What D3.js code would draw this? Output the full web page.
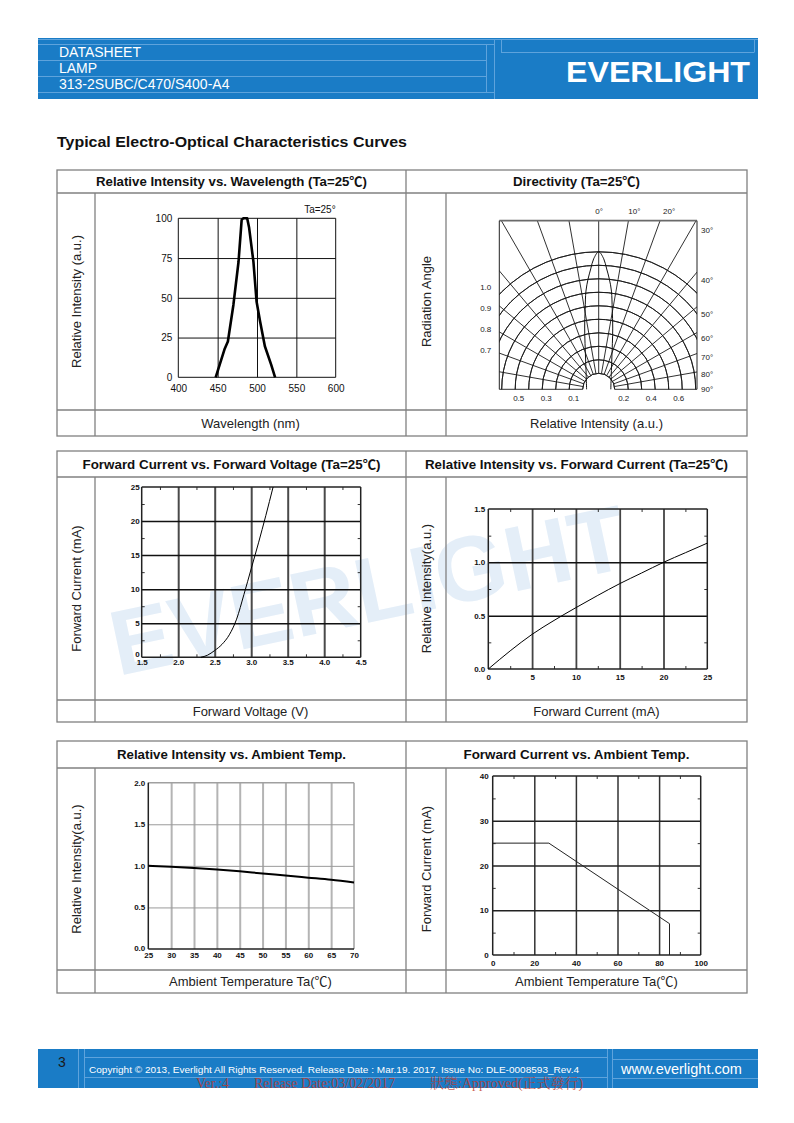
<!DOCTYPE html>
<html><head><meta charset="utf-8">
<script src="https://cdn.jsdelivr.net/npm/d3@7"></script>
<style>body{margin:0;background:#fff}svg{display:block}</style>
</head><body>
<svg id="page" width="794" height="1123"></svg>
<script>
// ================= DATA =================
const headerLines = ["DATASHEET", "LAMP", "313-2SUBC/C470/S400-A4"];
const logoText = "EVERLIGHT";
const pageTitle = "Typical Electro-Optical Characteristics Curves";
const chartTitles = [
  ["Relative Intensity vs. Wavelength (Ta=25℃)", "Directivity (Ta=25℃)"],
  ["Forward Current vs. Forward Voltage (Ta=25℃)", "Relative Intensity vs. Forward Current (Ta=25℃)"],
  ["Relative Intensity vs. Ambient Temp.", "Forward Current vs. Ambient Temp."]
];
const sideLabels = [
  ["Relative Intensity (a.u.)", "Radiation Angle"],
  ["Forward Current (mA)", "Relative Intensity(a.u.)"],
  ["Relative Intensity(a.u.)", "Forward Current (mA)"]
];
const bottomLabels = [
  ["Wavelength (nm)", "Relative Intensity (a.u.)"],
  ["Forward Voltage (V)", "Forward Current (mA)"],
  ["Ambient Temperature Ta(℃)", "Ambient Temperature Ta(℃)"]
];

// Relative intensity vs wavelength
const wlTicks = [400, 450, 500, 550, 600];
const wlRelTicks = [0, 25, 50, 75, 100];
const spectrumWl  = [447.5, 459, 463, 470, 476.5, 480.5, 482.5, 487.5, 490, 495.5, 499.5, 504, 510, 518, 523];
const spectrumRel = [0, 18, 22.5, 45.5, 72.5, 99, 100, 100, 94, 72.5, 47.5, 35, 19.5, 8, 0];
const spectrumNote = "Ta=25°";

// Directivity
const dirGridAngles = [-90, -80, -70, -60, -50, -40, -30, -20, -10, 0, 10, 20, 30, 40, 50, 60, 70, 80, 90];
const dirRings = [1, 2, 3, 4, 5, 6, 7, 8, 9, 10];
const dirAngles = [-90, -40, -23.4, -12.9, -9.6, -7.4, -5.5, -3.8, -2.2, 0, 2.2, 3.8, 5.5, 7.4, 9.6, 12.9, 23.4, 40, 90];
const dirRel    = [0.088, 0.142, 0.24, 0.457, 0.59, 0.72, 0.806, 0.877, 0.95, 1.0, 0.95, 0.877, 0.806, 0.72, 0.59, 0.457, 0.24, 0.142, 0.088];
const dirTopAngles = [0, 10, 20];
const dirRightAngles = [30, 40, 50, 60, 70, 80, 90];
const dirLeftValues = [1.0, 0.9, 0.8, 0.7];
const dirBottomValues = [0.5, 0.3, 0.1, 0.2, 0.4, 0.6];

// Forward current vs forward voltage
const vfTicks = [1.5, 2.0, 2.5, 3.0, 3.5, 4.0, 4.5];
const vfMinor = [1.75, 2.25, 2.75, 3.25, 3.75, 4.25];
const ifTicksA = [0, 5, 10, 15, 20, 25];
const ifMinorA = [2.5, 7.5, 12.5, 17.5, 22.5];
const vfVolt = [2.31, 2.40, 2.50, 2.60, 2.70, 2.80, 2.90, 3.00, 3.10, 3.20, 3.30];
const vfCurr = [0, 0.3, 1.0, 1.9, 3.3, 5.6, 9.2, 13.0, 16.8, 20.8, 25];

// Relative intensity vs forward current
const ifTicks = [0, 5, 10, 15, 20, 25];
const ifMinor = [2.5, 7.5, 12.5, 17.5, 22.5];
const ivTicks = [0, 0.5, 1.0, 1.5];
const ivMinor = [0.25, 0.75, 1.25];
const ifCurr = [0, 2.5, 5, 7.5, 10, 12.5, 15, 17.5, 20, 22.5, 25];
const ifRel  = [0, 0.17, 0.325, 0.455, 0.575, 0.69, 0.80, 0.90, 1.0, 1.09, 1.18];

// Relative intensity vs ambient temperature
const taTicks = [25, 30, 35, 40, 45, 50, 55, 60, 65, 70];
const taRelTicks = [0, 0.5, 1.0, 1.5, 2.0];
const taTemp = [25, 30, 35, 40, 45, 50, 55, 60, 65, 70];
const taRel  = [1.0, 0.99, 0.975, 0.957, 0.935, 0.908, 0.884, 0.858, 0.832, 0.80];

// Forward current vs ambient temperature
const derTicks = [0, 20, 40, 60, 80, 100];
const derMinor = [10, 30, 50, 70, 90];
const derCurTicks = [0, 10, 20, 30, 40];
const derCurMinor = [5, 15, 25, 35];
const derTemp = [0, 27, 85, 85];
const derCurr = [25, 25, 7, 0];

// Footer
const pageNumber = "3";
const copyrightText = "Copyright © 2013, Everlight All Rights Reserved. Release Date : Mar.19. 2017. Issue No: DLE-0008593_Rev.4";
const siteText = "www.everlight.com";
const stampTexts = ["Ver.:4", "Release Date:03/02/2017", "狀態:Approved(正式發行)"];

// ================= DRAWING =================
const svg = d3.select("#page");
const BLUE = "#1a7cc6", LIGHT = "#5ea3dc", BORDER = "#808080";
const SANS = "'Liberation Sans', Arial, 'Noto Sans CJK TC', sans-serif";
const NARROW = "'Liberation Sans Narrow', 'Liberation Sans', Arial, sans-serif";
const SERIF = "'Liberation Serif', 'Times New Roman', 'Noto Serif CJK TC', 'Noto Sans CJK TC', serif";

function line(g, x1, y1, x2, y2, color, w) {
  return g.append("line").attr("x1", x1).attr("y1", y1).attr("x2", x2).attr("y2", y2)
    .attr("stroke", color).attr("stroke-width", w);
}

// ---- Header ----
(function header() {
  const g = svg.append("g");
  g.append("rect").attr("x", 38).attr("y", 38).attr("width", 720).attr("height", 61).attr("fill", BLUE);
  line(g, 38, 39.5, 758, 39.5, LIGHT, 1);
  line(g, 38, 44.5, 494, 44.5, LIGHT, 1);
  line(g, 38, 60.5, 486, 60.5, LIGHT, 1);
  line(g, 38, 76.5, 486, 76.5, LIGHT, 1);
  line(g, 38, 92.5, 494, 92.5, LIGHT, 1);
  line(g, 501, 52.5, 754, 52.5, LIGHT, 1);
  line(g, 486.5, 44.5, 486.5, 92.5, LIGHT, 1);
  line(g, 494.5, 39.5, 494.5, 99, LIGHT, 1);
  line(g, 501.5, 39.5, 501.5, 52.5, LIGHT, 1);
  line(g, 754.5, 39.5, 754.5, 52.5, LIGHT, 1);
  g.selectAll("text.hl").data(headerLines).join("text")
    .attr("x", 59).attr("y", (d, i) => 57 + i * 16)
    .attr("font-family", SANS).attr("font-size", 14).attr("fill", "#fff").text(d => d);
  g.append("text").attr("x", 566).attr("y", 82).attr("font-family", SANS).attr("font-weight", "bold")
    .attr("font-size", 30).attr("fill", "#fff").attr("textLength", 184).attr("lengthAdjust", "spacingAndGlyphs")
    .text(logoText);
})();

// ---- Page title ----
svg.append("text").attr("x", 57).attr("y", 147).attr("font-family", SANS).attr("font-weight", "bold")
  .attr("font-size", 15).attr("fill", "#111").attr("textLength", 350).attr("lengthAdjust", "spacingAndGlyphs")
  .text(pageTitle);

// ---- Watermark (behind table 2) ----
svg.append("text").attr("transform", "translate(118,676) rotate(-12)")
  .attr("font-family", SANS).attr("font-weight", "bold").attr("font-size", 92)
  .attr("fill", "#e4eef8").attr("textLength", 525).attr("lengthAdjust", "spacingAndGlyphs")
  .text(logoText);

// ---- Tables ----
const TX = [57, 95, 406, 446, 747];
const tableRows = [[170, 193, 410, 436], [451, 477, 700, 722], [741, 768, 970, 993]];
const titleWidths = [[271, 127], [298, 303], [229, 226]];
tableRows.forEach((r, i) => {
  const [t, r1, r2, b] = r;
  const g = svg.append("g");
  g.append("rect").attr("x", TX[0]).attr("y", t).attr("width", TX[4] - TX[0]).attr("height", b - t)
    .attr("fill", "none").attr("stroke", BORDER).attr("stroke-width", 1.3);
  line(g, TX[0], r1, TX[4], r1, BORDER, 1.3);
  line(g, TX[0], r2, TX[4], r2, BORDER, 1.3);
  line(g, TX[2], t, TX[2], b, BORDER, 1.3);
  line(g, TX[1], r1, TX[1], b, BORDER, 1.3);
  line(g, TX[3], r1, TX[3], b, BORDER, 1.3);
  [0, 1].forEach(j => {
    const cx = j === 0 ? (TX[0] + TX[2]) / 2 : (TX[2] + TX[4]) / 2;
    g.append("text").attr("x", cx).attr("y", (t + r1) / 2 + 4.5).attr("text-anchor", "middle")
      .attr("font-family", SANS).attr("font-weight", "bold").attr("font-size", 13).attr("fill", "#111")
      .attr("textLength", titleWidths[i][j]).attr("lengthAdjust", "spacingAndGlyphs")
      .text(chartTitles[i][j]);
    const sx = j === 0 ? (TX[0] + TX[1]) / 2 : (TX[2] + TX[3]) / 2;
    g.append("text").attr("transform", `translate(${sx + 4.5},${(r1 + r2) / 2}) rotate(-90)`)
      .attr("text-anchor", "middle").attr("font-family", SANS).attr("font-size", 13).attr("fill", "#222")
      .text(sideLabels[i][j]);
    const bx = j === 0 ? (TX[1] + TX[2]) / 2 : (TX[3] + TX[4]) / 2;
    g.append("text").attr("x", bx).attr("y", (r2 + b) / 2 + 4.5).attr("text-anchor", "middle")
      .attr("font-family", SANS).attr("font-size", 13).attr("fill", "#222")
      .text(bottomLabels[i][j]);
  });
});

// ---- Cartesian chart helper ----
function cartesian(c) {
  const g = svg.append("g");
  const x = d3.scaleLinear().domain(c.xDomain).range([c.left, c.right]);
  const y = d3.scaleLinear().domain(c.yDomain).range([c.bottom, c.top]);
  const w = c.right - c.left, h = c.bottom - c.top;
  const strip = s => s.select(".domain").remove();
  g.append("g").attr("transform", `translate(0,${c.bottom})`)
    .call(d3.axisBottom(x).tickValues(c.xTicks.slice(1, -1)).tickSize(-h).tickFormat(""))
    .call(strip).selectAll("line").attr("stroke", c.vg[0]).attr("stroke-width", c.vg[1]);
  g.append("g").attr("transform", `translate(${c.left},0)`)
    .call(d3.axisLeft(y).tickValues(c.yTicks.slice(1, -1)).tickSize(-w).tickFormat(""))
    .call(strip).selectAll("line").attr("stroke", c.hg[0]).attr("stroke-width", c.hg[1]);
  if (c.minorX) {
    g.append("g").attr("transform", `translate(0,${c.top})`)
      .call(d3.axisBottom(x).tickValues(c.minorX).tickSize(3).tickFormat("")).call(strip)
      .selectAll("line").attr("stroke", "#333");
    g.append("g").attr("transform", `translate(0,${c.bottom})`)
      .call(d3.axisTop(x).tickValues(c.minorX).tickSize(3).tickFormat("")).call(strip)
      .selectAll("line").attr("stroke", "#333");
  }
  if (c.minorY) {
    g.append("g").attr("transform", `translate(${c.left},0)`)
      .call(d3.axisRight(y).tickValues(c.minorY).tickSize(3).tickFormat("")).call(strip)
      .selectAll("line").attr("stroke", "#333");
    g.append("g").attr("transform", `translate(${c.right},0)`)
      .call(d3.axisLeft(y).tickValues(c.minorY).tickSize(3).tickFormat("")).call(strip)
      .selectAll("line").attr("stroke", "#333");
  }
  const f = c.frame; // [top,right,bottom,left] colours, width
  line(g, c.left, c.top, c.right, c.top, f[0], f[4]);
  line(g, c.right, c.top, c.right, c.bottom, f[1], f[4]);
  line(g, c.left, c.bottom, c.right, c.bottom, f[2], f[4]);
  line(g, c.left, c.top, c.left, c.bottom, f[3], f[4]);
  g.append("path").datum(d3.zip(c.xs, c.ys))
    .attr("fill", "none").attr("stroke", c.lineColor || "#000").attr("stroke-width", c.lineWidth)
    .attr("stroke-linejoin", "round")
    .attr("d", d3.line().x(d => x(d[0])).y(d => y(d[1])).curve(c.curve || d3.curveLinear));
  const xa = g.append("g").attr("transform", `translate(0,${c.bottom})`)
    .call(d3.axisBottom(x).tickValues(c.xTicks).tickSize(0).tickPadding(c.xPad).tickFormat(c.xFmt))
    .call(strip);
  const ya = g.append("g").attr("transform", `translate(${c.left},0)`)
    .call(d3.axisLeft(y).tickValues(c.yTicks).tickSize(0).tickPadding(c.yPad).tickFormat(c.yFmt))
    .call(strip);
  [xa, ya].forEach(a => {
    a.attr("font-family", c.font).attr("font-size", c.fontSize).attr("font-weight", c.fontWeight);
    a.selectAll("text").attr("fill", "#111");
  });
  if (c.zeroLift) {
    ya.selectAll(".tick").filter(d => d === c.yDomain[0]).select("text").attr("y", -c.zeroLift);
  }
  return { g, x, y };
}

// Chart 1: spectrum
const c1 = cartesian({
  left: 178.3, right: 335.7, top: 218.3, bottom: 377.3,
  xDomain: [400, 600], yDomain: [0, 100], xTicks: wlTicks, yTicks: wlRelTicks,
  xFmt: d3.format("d"), yFmt: d3.format("d"),
  vg: ["#111", 1], hg: ["#111", 1], frame: ["#111", "#111", "#111", "#111", 1],
  xs: spectrumWl, ys: spectrumRel, lineWidth: 2.6,
  font: SANS, fontSize: 10, fontWeight: "normal", xPad: 8, yPad: 6
});
c1.g.append("text").attr("x", c1.x(600)).attr("y", c1.y(100) - 5).attr("text-anchor", "end")
  .attr("font-family", SANS).attr("font-size", 10).attr("fill", "#111").text(spectrumNote);

// Chart 2: directivity (polar)
(function polar() {
  const fx0 = 499.3, fx1 = 697, fy0 = 220.7, fy1 = 389.3, cx = 598.7, cy = fy1;
  const g = svg.append("g");
  g.append("defs").append("clipPath").attr("id", "dirClip").append("rect")
    .attr("x", fx0).attr("y", fy0).attr("width", fx1 - fx0).attr("height", fy1 - fy0 + 1);
  const c = g.append("g").attr("clip-path", "url(#dirClip)")
    .append("g").attr("transform", `translate(${cx},${cy})`);
  const rad = a => a * Math.PI / 180;
  const ringR = d3.scaleLinear().domain([1, 10]).range([16, 137.5]);
  const rScale = d3.scaleLinear().domain([0, 1]).range([0, 137.5]);
  const arc = d3.arc();
  c.selectAll("path.ring").data(dirRings).join("path").attr("class", "ring")
    .attr("d", d => arc({ innerRadius: ringR(d), outerRadius: ringR(d), startAngle: -Math.PI / 2, endAngle: Math.PI / 2 }))
    .attr("fill", "none").attr("stroke", "#1a1a1a").attr("stroke-width", 0.9);
  c.selectAll("line.spoke").data(dirGridAngles).join("line").attr("class", "spoke")
    .attr("x1", a => ringR(1) * Math.sin(rad(a))).attr("y1", a => -ringR(1) * Math.cos(rad(a)))
    .attr("x2", a => 400 * Math.sin(rad(a))).attr("y2", a => -400 * Math.cos(rad(a)))
    .attr("stroke", "#1a1a1a").attr("stroke-width", 0.9);
  c.append("path").datum(d3.zip(dirAngles, dirRel))
    .attr("d", d3.lineRadial().angle(d => rad(d[0])).radius(d => rScale(d[1])).curve(d3.curveCatmullRom))
    .attr("fill", "none").attr("stroke", "#111").attr("stroke-width", 1);
  line(g, fx0, fy0, fx1, fy0, "#6a6a6a", 1.8);
  line(g, fx0, fy0, fx0, fy1, "#222", 1);
  line(g, fx1, fy0, fx1, fy1, "#222", 1);
  const lab = g.append("g").attr("font-family", SANS).attr("font-size", 8).attr("fill", "#222");
  const dx = fx1 - cx, dy = cy - fy0;
  lab.selectAll("text.top").data(dirTopAngles).join("text")
    .attr("x", a => cx + dy * Math.tan(rad(a)) + (a === 0 ? 0.5 : 3 + a * 0.3))
    .attr("y", fy0 - 7).attr("text-anchor", "middle").text(a => a + "°");
  lab.selectAll("text.right").data(dirRightAngles).join("text")
    .attr("x", fx1 + 4)
    .attr("y", a => {
      const hitY = Math.max(fy0, cy - dx / Math.tan(rad(a)));
      return hitY + 8 * Math.cos(rad(a)) / Math.cos(rad(40)) + 3;
    }).text(a => a + "°");
  const leftY = d3.scaleLinear().domain([1.0, 0.7]).range([287, 350]);
  lab.selectAll("text.left").data(dirLeftValues).join("text")
    .attr("x", fx0 - 8).attr("y", v => leftY(v) + 3).attr("text-anchor", "end")
    .text(d3.format(".1f"));
  const pairX = d3.scaleLinear().domain([1, 3]).range([25, 80]);
  lab.selectAll("text.bot").data(dirBottomValues).join("text")
    .attr("x", v => {
      const k = Math.round(v * 10);
      const side = k % 2 === 1 ? -1 : 1;
      return cx + side * pairX(Math.ceil(k / 2));
    })
    .attr("y", cy + 12).attr("text-anchor", "middle").text(d3.format(".1f"));
})();

// Chart 3: IF vs VF
cartesian({
  left: 141.7, right: 360.7, top: 487, bottom: 657.3,
  xDomain: [1.5, 4.5], yDomain: [0, 25], xTicks: vfTicks, yTicks: ifTicksA,
  minorX: vfMinor, minorY: ifMinorA,
  xFmt: d3.format(".1f"), yFmt: d3.format("d"),
  vg: ["#4a4a4a", 2], hg: ["#111", 1.5], frame: ["#222", "#222", "#222", "#222", 1.5],
  xs: vfVolt, ys: vfCurr, lineWidth: 1, curve: d3.curveMonotoneX,
  font: NARROW, fontSize: 8, fontWeight: "bold", xPad: 2, yPad: 2, zeroLift: 3.5
});

// Chart 4: IV vs IF
cartesian({
  left: 488.3, right: 707.3, top: 509, bottom: 669,
  xDomain: [0, 25], yDomain: [0, 1.5], xTicks: ifTicks, yTicks: ivTicks,
  minorX: ifMinor, minorY: ivMinor,
  xFmt: d3.format("d"), yFmt: d3.format(".1f"),
  vg: ["#444", 1.8], hg: ["#111", 1.5], frame: ["#222", "#222", "#222", "#222", 1.5],
  xs: ifCurr, ys: ifRel, lineWidth: 1, curve: d3.curveMonotoneX,
  font: NARROW, fontSize: 8, fontWeight: "bold", xPad: 5, yPad: 3
});

// Chart 5: IV vs Ta
cartesian({
  left: 148.3, right: 354, top: 782.7, bottom: 949,
  xDomain: [25, 70], yDomain: [0, 2.0], xTicks: taTicks, yTicks: taRelTicks,
  xFmt: d3.format("d"), yFmt: d3.format(".1f"),
  vg: ["#b4b4b4", 2], hg: ["#9a9a9a", 1], frame: ["#a0a0a0", "#a0a0a0", "#222", "#222", 1.5],
  xs: taTemp, ys: taRel, lineWidth: 2, curve: d3.curveMonotoneX,
  font: NARROW, fontSize: 8, fontWeight: "bold", xPad: 3.3, yPad: 3, zeroLift: 1.5
});

// Chart 6: IF vs Ta (derating)
cartesian({
  left: 492.7, right: 700.7, top: 776, bottom: 955,
  xDomain: [0, 100], yDomain: [0, 40], xTicks: derTicks, yTicks: derCurTicks,
  minorX: derMinor, minorY: derCurMinor,
  xFmt: d3.format("d"), yFmt: d3.format("d"),
  vg: ["#333", 1.5], hg: ["#222", 1.5], frame: ["#222", "#222", "#222", "#222", 1.5],
  xs: derTemp, ys: derCurr, lineWidth: 1, lineColor: "#222",
  font: NARROW, fontSize: 8, fontWeight: "bold", xPad: 5, yPad: 4
});

// ---- Footer ----
(function footer() {
  const g = svg.append("g");
  g.append("rect").attr("x", 38).attr("y", 1049).attr("width", 720).attr("height", 39).attr("fill", BLUE);
  line(g, 78.5, 1049, 78.5, 1088, LIGHT, 1);
  line(g, 84.5, 1049, 84.5, 1088, LIGHT, 1);
  line(g, 84, 1057.5, 607, 1057.5, LIGHT, 1);
  line(g, 84, 1077.5, 607, 1077.5, LIGHT, 1);
  line(g, 607.5, 1049, 607.5, 1088, LIGHT, 1);
  line(g, 612.5, 1049, 612.5, 1088, LIGHT, 1);
  line(g, 612, 1059.5, 758, 1059.5, LIGHT, 1);
  line(g, 612, 1078.5, 758, 1078.5, LIGHT, 1);
  g.append("text").attr("x", 62).attr("y", 1067).attr("text-anchor", "middle")
    .attr("font-family", SANS).attr("font-size", 14).attr("fill", "#1a1a1a").text(pageNumber);
  g.append("text").attr("x", 89).attr("y", 1073).attr("font-family", SANS).attr("font-size", 9.5)
    .attr("fill", "#fff").attr("textLength", 490).attr("lengthAdjust", "spacingAndGlyphs").text(copyrightText);
  g.append("text").attr("x", 621).attr("y", 1074).attr("font-family", SANS).attr("font-size", 14.5)
    .attr("fill", "#fff").text(siteText);
  const sx = [196, 254, 430];
  g.selectAll("text.stamp").data(stampTexts).join("text")
    .attr("x", (d, i) => sx[i]).attr("y", 1087.5).attr("font-family", SERIF).attr("font-size", 14)
    .attr("fill", "#c0392b").attr("fill-opacity", 0.8).text(d => d);
})();
</script>
</body></html>
